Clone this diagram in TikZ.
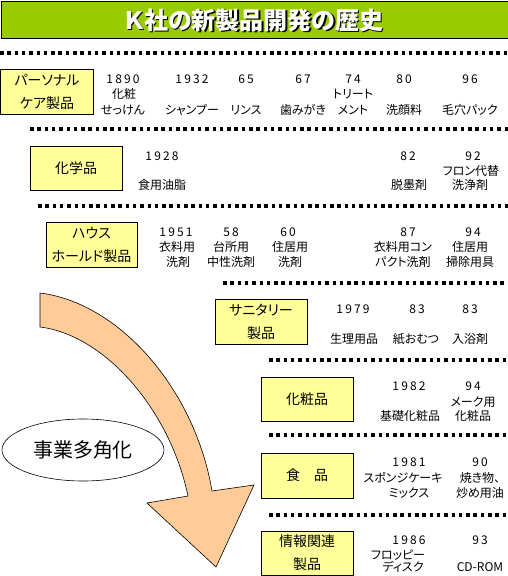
\documentclass[tikz,border=0pt]{standalone}
\usepackage{fontspec}
\setmainfont[RawFeature=+palt]{Noto Sans CJK JP}
\newfontfamily\numfont[LetterSpace=18]{Noto Sans CJK JP}
\usetikzlibrary{shapes.geometric}
\definecolor{titlegreen}{RGB}{153,204,0}
\definecolor{boxyellow}{RGB}{255,255,153}
\definecolor{arrowfill}{RGB}{255,204,153}
\tikzset{
  t/.style={anchor=base, yshift=-4.5pt, inner sep=0pt, font=\fontsize{12}{14}\selectfont},
  n/.style={t, yshift=0.1pt, font=\numfont\fontsize{12}{14}\selectfont},
  cat/.style={draw, fill=boxyellow, line width=1pt, inner sep=0pt, align=center,
              minimum width=92pt, minimum height=45pt, font=\fontsize{14}{23}\selectfont},
  dotline/.style={line width=3.5pt, dash pattern=on 3.5pt off 3.8pt}
}
\begin{document}
\begin{tikzpicture}[x=1pt,y=-1pt]
\useasboundingbox (0,0) rectangle (508,576);
% title
\node[fill=titlegreen, draw, line width=1pt, minimum width=507pt, minimum height=37pt,
      anchor=north west, inner sep=0pt] (titlebar) at (0.5,0.5) {};
\node[anchor=base, inner sep=0pt, text=black, font=\bfseries\fontsize{24}{26}\selectfont] (titleshadow) at (255.2,30.2) {Ｋ社の新製品開発の歴史};
\node[anchor=base, inner sep=0pt, text=white, font=\bfseries\fontsize{24}{26}\selectfont] (title) at (254,29) {Ｋ社の新製品開発の歴史};

% dotted separators
\draw[dotline] (0,53) -- (508,53);
\draw[dotline] (30,129) -- (508,129);
\draw[dotline] (38,206) -- (508,206);
\draw[dotline] (223,283) -- (508,283);
\draw[dotline] (269,360) -- (508,360);
\draw[dotline] (269,435) -- (508,435);
\draw[dotline] (269,515) -- (508,515);

% ellipse
\node[draw, ellipse, line width=0.6pt, minimum width=162pt, minimum height=62pt, inner sep=0pt,
      font=\fontsize{20}{22}\selectfont] (div) at (83,450) {事業多角化};

% big curved arrow
\draw[fill=arrowfill, line width=0.6pt, line join=miter]
  (40,293) .. controls (120,303) and (195,390) .. (212,491)
  -- (254,485) -- (216,567) -- (147,503) -- (188,496)
  .. controls (170,410) and (105,335) .. (40,327) -- cycle;

% category boxes
\node[cat, minimum width=93pt] (b1) at (47,91.5) {パーソナル\\ケア製品};
\node[cat, minimum height=44pt] (b2) at (76,168) {化学品};
\node[cat, minimum width=91pt] (b3) at (91.5,244.5) {ハウス\\ホールド製品};
\node[cat] (b4) at (261,321.5) {サニタリー\\製品};
\node[cat, minimum height=44pt] (b5) at (307,399) {化粧品};
\node[cat] (b6) at (307,475.5) {食　品};
\node[cat, minimum height=44pt] (b7) at (307,553) {情報関連\\製品};

% row 1
\node[n] (r1a) at (123,79) {1890};
\node[t] (r1b) at (124,94) {化粧};
\node[t] (r1c) at (123,110) {せっけん};
\node[n] (r1d) at (192,79) {1932};
\node[t] (r1e) at (192,110) {シャンプー};
\node[n] (r1f) at (246,79) {65};
\node[t] (r1g) at (246,110) {リンス};
\node[n] (r1h) at (303,79) {67};
\node[t] (r1i) at (303,110) {歯みがき};
\node[n] (r1j) at (353,79) {74};
\node[t] (r1k) at (353,94) {トリート};
\node[t] (r1l) at (353,110) {メント};
\node[n] (r1m) at (404,79) {80};
\node[t] (r1n) at (404,110) {洗顔料};
\node[n] (r1o) at (470,79) {96};
\node[t] (r1p) at (470,110) {毛穴パック};

% row 2
\node[n] (r2a) at (162,156) {1928};
\node[t] (r2b) at (162,185) {食用油脂};
\node[n] (r2c) at (408,156) {82};
\node[t] (r2d) at (409,185) {脱墨剤};
\node[n] (r2e) at (473,156) {92};
\node[t] (r2f) at (471,171) {フロン代替};
\node[t] (r2g) at (470,185) {洗浄剤};

% row 3
\node[n] (r3a) at (176,232) {1951};
\node[t] (r3b) at (177,247) {衣料用};
\node[t] (r3c) at (178,262) {洗剤};
\node[n] (r3d) at (231,232) {58};
\node[t] (r3e) at (231,247) {台所用};
\node[t] (r3f) at (231,262) {中性洗剤};
\node[n] (r3g) at (288,232) {60};
\node[t] (r3h) at (290,247) {住居用};
\node[t] (r3i) at (290,262) {洗剤};
\node[n] (r3j) at (408,232) {87};
\node[t] (r3k) at (403,247) {衣料用コン};
\node[t] (r3l) at (403,262) {パクト洗剤};
\node[n] (r3m) at (473,232) {94};
\node[t] (r3n) at (470,247) {住居用};
\node[t] (r3o) at (470,262) {掃除用具};

% row 4
\node[n] (r4a) at (353,309) {1979};
\node[t] (r4b) at (354,339) {生理用品};
\node[n] (r4c) at (417,309) {83};
\node[t] (r4d) at (416,339) {紙おむつ};
\node[n] (r4e) at (470,309) {83};
\node[t] (r4f) at (470,339) {入浴剤};

% row 5
\node[n] (r5a) at (409,386) {1982};
\node[t] (r5b) at (410,416) {基礎化粧品};
\node[n] (r5c) at (473,386) {94};
\node[t] (r5d) at (473,402) {メーク用};
\node[t] (r5e) at (473,416) {化粧品};

% row 6
\node[n] (r6a) at (409,462) {1981};
\node[t] (r6b) at (403,478) {スポンジケーキ};
\node[t] (r6c) at (409,493) {ミックス};
\node[n] (r6d) at (480,462) {90};
\node[t] (r6e) at (480,478) {焼き物、};
\node[t] (r6f) at (480,493) {炒め用油};

% row 7
\node[n] (r7a) at (409,540) {1986};
\node[t] (r7b) at (398,555) {フロッピー};
\node[t] (r7c) at (403,567) {ディスク};
\node[n] (r7d) at (480,540) {93};
\node[t] (r7e) at (480,567) {CD-ROM};
\end{tikzpicture}
\end{document}
